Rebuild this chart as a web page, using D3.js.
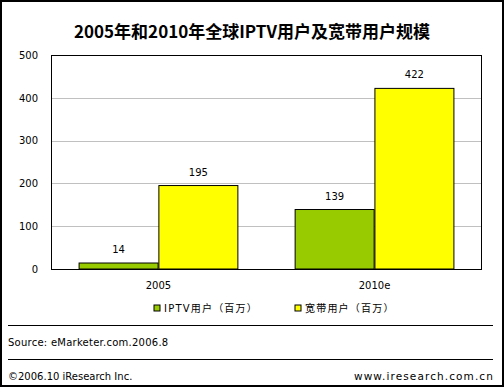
<!DOCTYPE html>
<html><head><meta charset="utf-8">
<script src="https://cdn.jsdelivr.net/npm/d3@7"></script>
<style>body{margin:0;background:#fff}svg{display:block}</style>
</head><body>
<script>
const categories = ["2005", "2010e"];
const seriesNames = ["IPTV用户（百万）", "宽带用户（百万）"];
const iptv = [14, 139];
const broadband = [195, 422];
const yTicks = [0, 100, 200, 300, 400, 500];
const colors = ["#99CC00", "#FFFF00"];

const W = 504, H = 387;
const svg = d3.select("body").append("svg").attr("width", W).attr("height", H);
svg.append("rect").attr("x", 1).attr("y", 1).attr("width", W - 2).attr("height", H - 2)
  .attr("fill", "#fff").attr("stroke", "#000").attr("stroke-width", 2);

const font = "'DejaVu Sans', 'Noto Sans CJK SC', sans-serif";
svg.append("text").attr("x", 252).attr("y", 38).attr("text-anchor", "middle")
  .attr("font-family", "'Noto Sans CJK SC', sans-serif").attr("font-weight", "bold").attr("font-size", 17)
  .text("2005年和2010年全球IPTV用户及宽带用户规模");

const L = 51, R = 482, T = 55, B = 269;
const y = d3.scaleLinear().domain([0, 500]).range([B, T]);
const x0 = d3.scaleBand().domain(categories).range([L, R]).paddingInner(0.265).paddingOuter(0.13);
const x1 = d3.scaleBand().domain([0, 1]).range([0, x0.bandwidth()]).paddingInner(0.01);

// gridlines
svg.append("g").selectAll("line").data(yTicks.filter(d => d > 0 && d < 500)).join("line")
  .attr("x1", L).attr("x2", R).attr("y1", d => Math.round(y(d)) + 0.5).attr("y2", d => Math.round(y(d)) + 0.5)
  .attr("stroke", "#c0c0c0");

// y axis labels
const yAxis = d3.axisLeft(y).tickValues(yTicks).tickSize(0).tickPadding(13);
const ya = svg.append("g").attr("transform", `translate(${L},0)`).call(yAxis);
ya.select(".domain").remove();
ya.selectAll("text").attr("font-family", font).attr("font-size", 10).attr("fill", "#000");

// bars
const data = categories.map((c, i) => ({c, vals: [iptv[i], broadband[i]]}));
const g = svg.append("g").selectAll("g").data(data).join("g")
  .attr("transform", d => `translate(${x0(d.c)},0)`);
g.selectAll("rect").data(d => d.vals.map((v, k) => ({v, k}))).join("rect")
  .attr("x", d => x1(d.k)).attr("width", x1.bandwidth())
  .attr("y", d => y(d.v)).attr("height", d => B - y(d.v))
  .attr("fill", d => colors[d.k]).attr("stroke", "#000").attr("stroke-width", 1);
g.selectAll("text").data(d => d.vals.map((v, k) => ({v, k}))).join("text")
  .attr("x", d => x1(d.k) + x1.bandwidth() / 2).attr("y", d => y(d.v) - 10)
  .attr("text-anchor", "middle").attr("font-family", font).attr("font-size", 10)
  .text(d => d.v);

// plot frame
svg.append("rect").attr("x", L + 0.5).attr("y", T + 0.5).attr("width", R - L - 1).attr("height", B - T)
  .attr("fill", "none").attr("stroke", "#000");

// x labels
const xAxis = d3.axisBottom(x0).tickSize(0).tickPadding(13);
const xa = svg.append("g").attr("transform", `translate(0,${B})`).call(xAxis);
xa.select(".domain").remove();
xa.selectAll("text").attr("font-family", font).attr("font-size", 10).attr("fill", "#000");

// legend
const legX = [154, 295];
const lg = svg.append("g").selectAll("g").data(seriesNames).join("g")
  .attr("transform", (d, i) => `translate(${legX[i]},305)`);
lg.append("rect").attr("width", 6).attr("height", 6).attr("fill", (d, i) => colors[i]).attr("stroke", "#000");
lg.append("text").attr("x", 10).attr("y", 7).attr("font-family", font).attr("font-size", 10)
  .attr("letter-spacing", 1.2).text(d => d);

// separators
[325.5, 359.5].forEach(yy => svg.append("line").attr("x1", 8).attr("x2", 493).attr("y1", yy).attr("y2", yy).attr("stroke", "#000"));

svg.append("text").attr("x", 8).attr("y", 346).attr("font-family", font).attr("font-size", 10)
  .attr("letter-spacing", 0.25).text("Source: eMarketer.com.2006.8");
svg.append("text").attr("x", 8).attr("y", 380).attr("font-family", font).attr("font-size", 10).text("©2006.10 iResearch Inc.");
svg.append("text").attr("x", 494).attr("y", 380).attr("text-anchor", "end").attr("font-family", font).attr("font-size", 10.5)
  .attr("letter-spacing", 1.1).attr("fill", "#000").text("www.iresearch.com.cn");
</script>
</body></html>
